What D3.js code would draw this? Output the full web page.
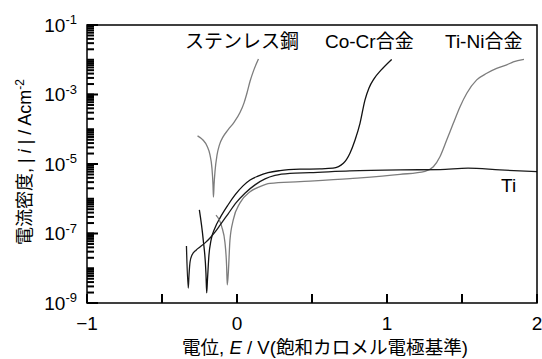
<!DOCTYPE html>
<html>
<head>
<meta charset="utf-8">
<script src="https://cdn.jsdelivr.net/npm/d3@7"></script>
<style>
  html, body { margin: 0; padding: 0; background: #fff; }
  svg { display: block; }
  text { font-family: "Liberation Sans", Arial, "Noto Sans CJK JP", sans-serif; fill: #000; }
</style>
</head>
<body>
<svg id="chart" width="542" height="359"></svg>
<script>
// Anodic polarization curves: potential E (V vs SCE) and log10 |i| (A/cm^2)
const stainlessE    = [-0.263, -0.227, -0.200, -0.180, -0.167, -0.160, -0.157, -0.153, -0.147, -0.133, -0.117, -0.093, -0.060, -0.020, 0.020, 0.047, 0.067, 0.087, 0.110, 0.143];
const stainlessLogI = [-4.19, -4.31, -4.48, -4.74, -5.12, -5.60, -5.95, -5.60, -5.23, -4.74, -4.45, -4.22, -4.02, -3.80, -3.52, -3.24, -2.95, -2.62, -2.32, -1.98];

const coCrE    = [-0.251, -0.225, -0.207, -0.202, -0.197, -0.187, -0.173, -0.147, -0.113, -0.060, -0.013, 0.040, 0.087, 0.140, 0.207, 0.287, 0.420, 0.553, 0.640, 0.709, 0.753, 0.787, 0.820, 0.853, 0.880, 0.913, 0.960, 1.031];
const coCrLogI = [-6.32, -7.19, -8.14, -8.71, -8.34, -7.62, -7.19, -6.84, -6.55, -6.18, -5.89, -5.63, -5.46, -5.35, -5.25, -5.19, -5.15, -5.14, -5.12, -4.98, -4.69, -4.31, -3.83, -3.16, -2.81, -2.55, -2.30, -1.99];

const tiNiE    = [-0.140, -0.102, -0.080, -0.069, -0.065, -0.058, -0.047, -0.025, 0.020, 0.087, 0.153, 0.220, 0.420, 0.753, 1.087, 1.253, 1.309, 1.353, 1.398, 1.442, 1.487, 1.531, 1.598, 1.665, 1.731, 1.798, 1.842, 1.913];
const tiNiLogI = [-6.47, -6.80, -7.27, -7.96, -8.48, -8.14, -7.19, -6.61, -6.12, -5.80, -5.65, -5.56, -5.51, -5.42, -5.30, -5.21, -5.08, -4.79, -4.31, -3.83, -3.35, -2.97, -2.58, -2.39, -2.25, -2.15, -2.06, -1.99];

const tiE    = [-0.337, -0.325, -0.320, -0.313, -0.300, -0.273, -0.247, -0.213, -0.180, -0.147, -0.113, -0.060, -0.007, 0.053, 0.120, 0.187, 0.253, 0.353, 0.487, 0.753, 1.087, 1.353, 1.540, 1.753, 2.000];
const tiLogI = [-7.36, -8.57, -8.19, -7.82, -7.62, -7.48, -7.39, -7.27, -7.13, -6.96, -6.76, -6.44, -6.12, -5.84, -5.60, -5.43, -5.33, -5.27, -5.25, -5.20, -5.17, -5.16, -5.12, -5.17, -5.22];

// Axis ticks
const xMajorTicks = [-1, 0, 1, 2];
const xMinorTicks = [-0.5, 0.5, 1.5];
const yLabelExponents = [-1, -3, -5, -7, -9];
const yDecadeExponents = [-9, -8, -7, -6, -5, -4, -3, -2, -1];

// Curve labels
const curveNames = ["ステンレス鋼", "Co-Cr合金", "Ti-Ni合金", "Ti"];

const series = [
  { name: curveNames[0], E: stainlessE, logI: stainlessLogI, color: "#7d7d7d" },
  { name: curveNames[1], E: coCrE,      logI: coCrLogI,      color: "#111111" },
  { name: curveNames[2], E: tiNiE,      logI: tiNiLogI,      color: "#7d7d7d" },
  { name: curveNames[3], E: tiE,        logI: tiLogI,        color: "#1a1a1a" }
];

const svg = d3.select("#chart");
const plotLeft = 87, plotRight = 537, plotTop = 25, plotBottom = 303;

const x = d3.scaleLinear().domain([-1, 2]).range([plotLeft, plotRight]);
const y = d3.scaleLog().domain([1e-9, 1e-1]).range([plotBottom, plotTop]);

// Minor log ticks: 1..9 within every decade
const yMinor = [];
yDecadeExponents.forEach(p => {
  if (p < -1) for (let k = 1; k <= 9; k++) yMinor.push(k * Math.pow(10, p));
});
const yLabeled = yLabelExponents.map(p => Math.pow(10, p));

// y tick labels as powers of ten
const yLab = svg.append("g");
yLab.selectAll("text").data(yLabeled).join("text")
  .attr("x", plotLeft - 10)
  .attr("y", d => y(d) + 6.5)
  .attr("text-anchor", "end")
  .attr("font-size", 19)
  .each(function(d) {
    const t = d3.select(this);
    t.append("tspan").text("10");
    t.append("tspan").attr("font-size", 13).attr("dy", "-0.55em").text(String(Math.round(Math.log10(d))));
  });

// x tick labels
svg.append("g").selectAll("text").data(xMajorTicks).join("text")
  .attr("x", d => x(d))
  .attr("y", plotBottom + 27)
  .attr("text-anchor", "middle")
  .attr("font-size", 19)
  .text(d => d3.format("d")(d));

// Curves
const line = d3.line()
  .x(d => x(d[0]))
  .y(d => y(Math.pow(10, d[1])))
  .curve(d3.curveMonotoneX);

svg.append("g").selectAll("path").data(series).join("path")
  .attr("d", s => line(s.E.map((e, i) => [e, s.logI[i]])))
  .attr("fill", "none")
  .attr("stroke", s => s.color)
  .attr("stroke-width", 1.3)
  .attr("stroke-linejoin", "round");

// Plot frame
svg.append("rect")
  .attr("x", plotLeft).attr("y", plotTop)
  .attr("width", plotRight - plotLeft).attr("height", plotBottom - plotTop)
  .attr("fill", "none").attr("stroke", "#000").attr("stroke-width", 1.5);

// Tick marks as small filled bars pointing into the plot
const tickG = svg.append("g").attr("fill", "#000");
tickG.selectAll("rect.ymin").data(yMinor).join("rect")
  .attr("class", "ymin")
  .attr("x", plotLeft).attr("width", 7)
  .attr("y", d => y(d) - 1).attr("height", 2);
tickG.selectAll("rect.ymaj").data(yLabeled).join("rect")
  .attr("class", "ymaj")
  .attr("x", plotLeft).attr("width", 11)
  .attr("y", d => y(d) - 1).attr("height", 2);
tickG.selectAll("rect.xt").data(xMajorTicks.concat(xMinorTicks)).join("rect")
  .attr("class", "xt")
  .attr("x", d => x(d) - 1).attr("width", 2)
  .attr("y", plotBottom - 9).attr("height", 9);

// Curve labels
const labelPos = [[185, 48], [325, 48], [445, 48], [501, 192]];
svg.append("g").selectAll("text").data(curveNames).join("text")
  .attr("x", (d, i) => labelPos[i][0])
  .attr("y", (d, i) => labelPos[i][1])
  .attr("font-size", 19)
  .text(d => d);

// Axis titles
const xTitle = svg.append("text")
  .attr("x", 325).attr("y", 354)
  .attr("text-anchor", "middle")
  .attr("font-size", 18.6);
xTitle.append("tspan").text("電位, ");
xTitle.append("tspan").attr("font-style", "italic").text("E");
xTitle.append("tspan").text(" / V(飽和カロメル電極基準)");

const yTitle = svg.append("text")
  .attr("transform", "translate(31,162) rotate(-90)")
  .attr("text-anchor", "middle")
  .attr("font-size", 18);
yTitle.append("tspan").text("電流密度, | ");
yTitle.append("tspan").attr("font-style", "italic").text("i");
yTitle.append("tspan").text(" | / Acm");
yTitle.append("tspan").attr("font-size", 12).attr("dy", "-0.6em").text("-2");
</script>
</body>
</html>
